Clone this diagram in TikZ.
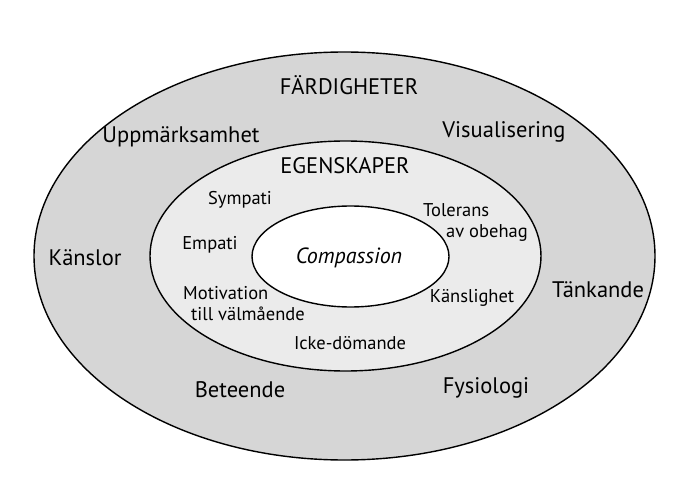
\documentclass[tikz,border=0pt]{standalone}
\usepackage{fontspec}
\setmainfont{PT Sans}
\usetikzlibrary{shapes.geometric}
\definecolor{outerfill}{HTML}{D6D6D6}
\definecolor{midfill}{HTML}{EBEBEB}
\tikzset{
  ring/.style={ellipse, draw=black, line width=1.4pt, inner sep=0pt},
  big/.style={font=\fontsize{22.5}{26}\selectfont, inner sep=0pt},
  small/.style={font=\fontsize{18.5}{21.5}\selectfont, inner sep=0pt},
}
\begin{document}
\begin{tikzpicture}[x=1pt,y=-1pt]
\useasboundingbox (0,0) rectangle (697,503);
\node[ring, fill=outerfill, minimum width=621pt, minimum height=408pt] (outer) at (344.5,256) {};
\node[ring, fill=midfill, minimum width=391pt, minimum height=230pt] (middle) at (345.5,256) {};
\node[ring, fill=white, minimum width=197pt, minimum height=101pt] (inner) at (350.5,256.5) {};

\node[big] (fard) at (349,85) {FÄRDIGHETER};
\node[big] (uppm) at (181,137) {Uppmärksamhet};
\node[big] (visu) at (504,132) {Visualisering};
\node[big] (kanslor) at (85,258) {Känslor};
\node[big] (tank) at (598,290) {Tänkande};
\node[big] (bete) at (240,390) {Beteende};
\node[big] (fysi) at (486,388) {Fysiologi};

\node[big] (egen) at (345,166) {EGENSKAPER};
\node[small] (symp) at (240,200) {Sympati};
\node[small, align=left, anchor=north west] (tol) at (423,203) {Tolerans\\\hspace*{23pt}av obehag};
\node[small] (empa) at (210,245) {Empati};
\node[small, align=left, anchor=north west] (moti) at (183,286) {Motivation\\\hspace*{8pt}till välmående};
\node[small] (kansl) at (472,298) {Känslighet};
\node[small] (icke) at (350,343) {Icke-dömande};

\node[font=\fontsize{22}{26}\selectfont\itshape, inner sep=0pt] (comp) at (349,258) {Compassion};
\end{tikzpicture}
\end{document}
